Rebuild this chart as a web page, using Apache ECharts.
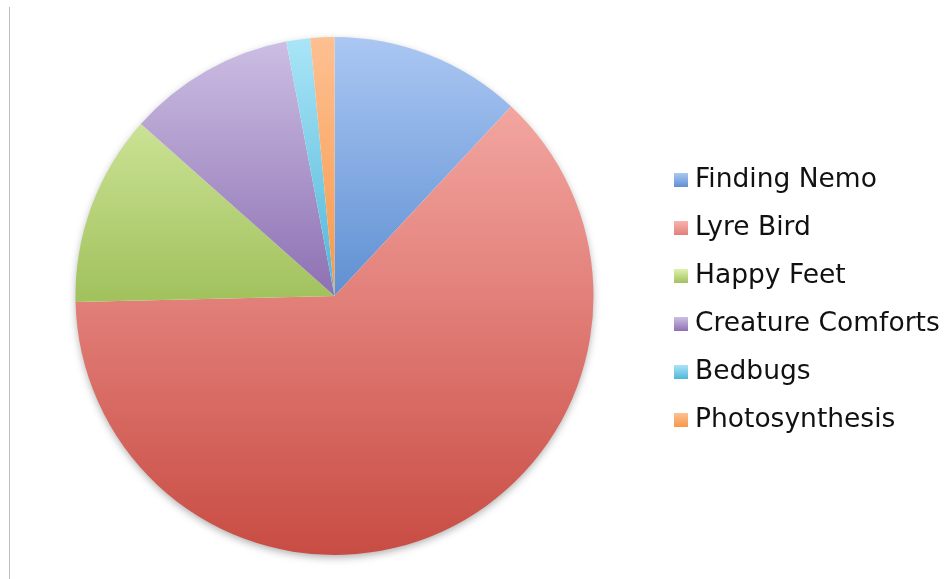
<!DOCTYPE html>
<html>
<head>
<meta charset="utf-8">
<script src="https://cdn.jsdelivr.net/npm/echarts@6/dist/echarts.min.js"></script>
<style>
html,body{margin:0;padding:0;background:#fff;}
#c{width:947px;height:579px;}
</style>
</head>
<body>
<div id="c"></div>
<script>
const categories = ['Finding Nemo', 'Lyre Bird', 'Happy Feet', 'Creature Comforts', 'Bedbugs', 'Photosynthesis'];
const values = [8, 42, 8, 7, 1, 1];

const stops = [
  ['#abc7f3', '#5f90d2', '#3d75c0'],
  ['#f9b3ae', '#e2807a', '#c84c43'],
  ['#dff2b0', '#a2c25e', '#88ac3f'],
  ['#cdbfe4', '#8d70b2', '#7455a0'],
  ['#aae5f7', '#4fb6d8', '#3a9fc5'],
  ['#fdc092', '#f7984a', '#f08534']
];

const cx = 334.5, cy = 296, r = 259;

function globalGrad(s) {
  return {
    type: 'linear', x: 0, y: cy - r, x2: 0, y2: cy + r, global: true,
    colorStops: [{offset: 0, color: s[0]}, {offset: 0.5, color: s[1]}, {offset: 1, color: s[2]}]
  };
}
function localGrad(s) {
  return {
    type: 'linear', x: 0, y: 0, x2: 0, y2: 1,
    colorStops: [{offset: 0, color: s[0]}, {offset: 1, color: s[1]}]
  };
}

const chart = echarts.init(document.getElementById('c'), null, {renderer: 'canvas'});
chart.setOption({
  animation: false,
  backgroundColor: '#ffffff',
  graphic: [
    {type: 'line', shape: {x1: 9.5, y1: 7, x2: 9.5, y2: 579}, style: {stroke: '#bdbdbd', lineWidth: 1}, silent: true},
    {type: 'circle', z: -10, shape: {cx: cx, cy: cy, r: r - 1}, style: {fill: '#ffffff', shadowBlur: 8, shadowOffsetY: 3, shadowColor: 'rgba(0,0,0,0.35)'}, silent: true}
  ],
  legend: {
    orient: 'vertical',
    left: 674,
    top: 165,
    padding: 0,
    icon: 'rect',
    itemWidth: 14,
    itemHeight: 14,
    itemGap: 18,
    selectedMode: false,
    textStyle: {fontFamily: 'DejaVu Sans', fontSize: 26.5, lineHeight: 30, color: '#111111', padding: [0, 0, 0, 2]},
    data: categories.map((c, i) => ({name: c, itemStyle: {color: localGrad(stops[i])}}))
  },
  series: [{
    type: 'pie',
    center: [cx, cy],
    radius: [0, r],
    startAngle: 90,
    clockwise: true,
    label: {show: false},
    labelLine: {show: false},
    emphasis: {disabled: true},
    silent: true,
    itemStyle: {borderWidth: 0},
    data: categories.map((c, i) => ({name: c, value: values[i], itemStyle: {color: globalGrad(stops[i])}}))
  }]
});
</script>
</body>
</html>
